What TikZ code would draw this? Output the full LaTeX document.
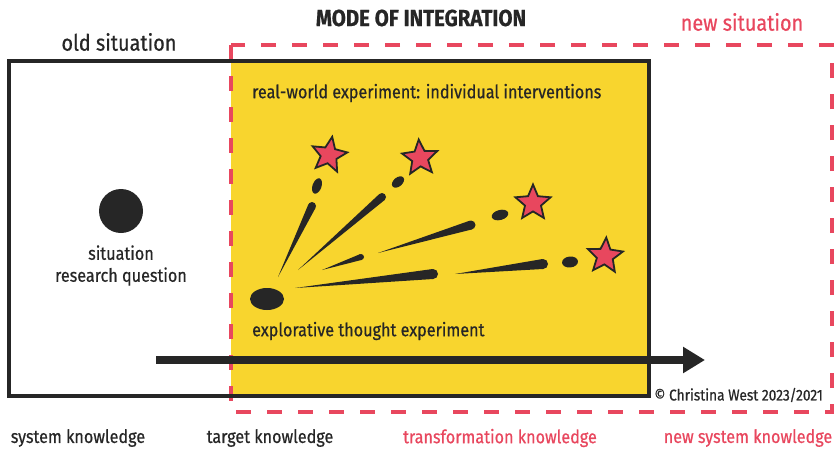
\documentclass[tikz,border=0pt]{standalone}
\usepackage{fontspec}
\setmainfont[FakeStretch=0.88, FakeBold=0.6]{Fira Sans}
\usetikzlibrary{positioning,shapes.geometric,arrows.meta,calc}
\definecolor{inkc}{HTML}{262626}
\definecolor{sunc}{HTML}{F8D52E}
\definecolor{redc}{HTML}{E8475E}
% tapered stroke: thin at #1, round thick end at #2, half width #3
\newcommand{\spark}[3]{%
  \fill[inkc] (#1) -- ($(#2)!#3!90:(#1)$) -- ($(#2)!#3!-90:(#1)$) -- cycle;
  \fill[inkc] (#2) circle (#3);}

\begin{document}
\begin{tikzpicture}[x=1pt, y=-1pt,
		lbl/.style={font=\fontsize{18.4}{22}\selectfont, text=inkc, inner sep=0pt},
		redlbl/.style={lbl, text=redc},
		head/.style={font=\fontsize{22.6}{26}\selectfont, text=inkc, inner sep=0pt},
		starnode/.style={star, star points=5, star point ratio=2.2, minimum size=37pt, inner sep=0pt, fill=redc, draw=inkc, line width=1.8pt},
		oldbox/.style={draw=inkc, line width=4.5pt},
		newbox/.style={draw=redc, line width=4.5pt, dash pattern=on 15pt off 16pt},
		bigarrow/.style={draw=inkc, line width=8pt, -{Triangle[length=22pt, width=25pt]}},
		]
		\useasboundingbox (0,0) rectangle (835,455);

		%Boxes
		\fill[sunc] (231,61) rectangle (649,396);
		\draw[newbox] (231,45) rectangle (832,412);
		\draw[oldbox] (9,61) rectangle (649,396);

		%Headings
		\node[head, font=\bfseries\fontsize{23.2}{26}\selectfont]	(mode_lbl)	at (421,18)	{MODE OF INTEGRATION};
		\node[head]	(old_lbl)	at (119,42)	{old situation};
		\node[head, text=redc]	(new_lbl)	at (742,22)	{new situation};

		%Old situation
		\node[circle, fill=inkc, minimum size=44pt, inner sep=0pt]	(situ)	at (121,211)	{};
		\node[lbl, align=center]	(situ_lbl)	[below=12pt of situ]	{situation\\research question};

		%Experiments
		\node[lbl, anchor=west]	(real_lbl)	at (252,93)	{real-world experiment: individual interventions};
		\node[lbl, anchor=west]	(thought_lbl)	at (252,331)	{explorative thought experiment};
		\fill[inkc] (267,299) ellipse (17pt and 11pt);

		\coordinate (s1a) at (278,277);	\coordinate (s1b) at (312,206);
		\coordinate (s2a) at (298,270);	\coordinate (s2b) at (382,197);
		\coordinate (s3a) at (322,270);	\coordinate (s3b) at (361,257);
		\coordinate (s4a) at (378,253);	\coordinate (s4b) at (471,225);
		\coordinate (s5a) at (295,288);	\coordinate (s5b) at (433,274);
		\coordinate (s6a) at (455,274);	\coordinate (s6b) at (543,264);
		\spark{s1a}{s1b}{4pt}
		\spark{s2a}{s2b}{4pt}
		\spark{s3a}{s3b}{3pt}
		\spark{s4a}{s4b}{4.5pt}
		\spark{s5a}{s5b}{5pt}
		\spark{s6a}{s6b}{5pt}

		\coordinate (d1) at (317,186);
		\coordinate (d2) at (398,182);
		\coordinate (d3) at (500,215);
		\coordinate (d4) at (570,262);
		\fill[inkc, rotate around={70:(d1)}] (d1) ellipse (8pt and 4.5pt);
		\fill[inkc, rotate around={40:(d2)}] (d2) ellipse (7pt and 4.5pt);
		\fill[inkc, rotate around={15:(d3)}] (d3) ellipse (8.5pt and 5pt);
		\fill[inkc, rotate around={6:(d4)}] (d4) ellipse (8pt and 5.5pt);

		\node[starnode, rotate=-10]	(star_1)	at (329,155)	{};
		\node[starnode, rotate=4]	(star_2)	at (420,158)	{};
		\node[starnode]	(star_3)	at (533,203)	{};
		\node[starnode, rotate=-4]	(star_4)	at (605,256)	{};

		%Arrow
		\coordinate (arr_start) at (156,360);
		\coordinate (arr_end) at (705,360);
		\draw[bigarrow] (arr_start) -- (arr_end);

		\node[lbl, anchor=east, font=\fontsize{15.6}{18}\selectfont]	(copy_lbl)	at (823,395)	{© Christina West 2023/2021};

		%Knowledge
		\node[lbl]	(sys_lbl)	at (78,438)	{system knowledge};
		\node[lbl]	(target_lbl)	at (270,438)	{target knowledge};
		\node[redlbl]	(trans_lbl)	at (500,438)	{transformation knowledge};
		\node[redlbl]	(newsys_lbl)	at (748,438)	{new system knowledge};

	\end{tikzpicture}
\end{document}
